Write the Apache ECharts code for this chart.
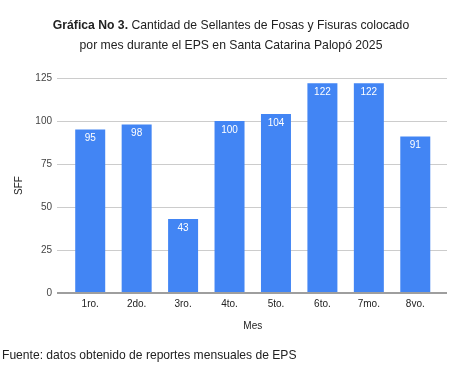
<!DOCTYPE html>
<html><head><meta charset="utf-8">
<script src="https://cdn.jsdelivr.net/npm/echarts@6/dist/echarts.min.js"></script>
<style>html,body{margin:0;padding:0;background:#fff}#c{width:456px;height:368px}</style>
</head><body><div id="c"></div>
<script>
const categories = ['1ro.', '2do.', '3ro.', '4to.', '5to.', '6to.', '7mo.', '8vo.'];
const values = [95, 98, 43, 100, 104, 122, 122, 91];
const yTicks = [0, 25, 50, 75, 100, 125];
const titleBold = 'Gráfica No 3.';
const titleRest1 = ' Cantidad de Sellantes de Fosas y Fisuras colocado';
const titleLine2 = 'por mes durante el EPS en Santa Catarina Palopó 2025';
const xName = 'Mes';
const yName = 'SFF';
const footer = 'Fuente: datos obtenido de reportes mensuales de EPS';

const chart = echarts.init(document.getElementById('c'), null, {renderer: 'canvas'});
const F = 'Arial, "Liberation Sans", sans-serif';
chart.setOption({
  animation: false,
  backgroundColor: '#fff',
  title: [{
    text: '{b|' + titleBold + '}' + titleRest1 + '\n' + titleLine2,
    left: 231, top: 16, textAlign: 'center', padding: 0,
    textStyle: {
      fontFamily: F, fontSize: 12.2, fontWeight: 'normal', color: '#222', lineHeight: 20,
      rich: {b: {fontFamily: F, fontSize: 12.2, fontWeight: 'bold', color: '#222'}}
    }
  }, {
    text: footer, left: 2, top: 350, padding: 0,
    textStyle: {fontFamily: F, fontSize: 12.1, fontWeight: 'normal', color: '#222'}
  }],
  grid: [
    {left: 57, right: 9, top: 78, bottom: 75},
    {left: 67, right: 17.5, top: 78, bottom: 75}
  ],
  xAxis: [
    {gridIndex: 0, type: 'value', min: 0, max: 1, show: false},
    {gridIndex: 1, type: 'category', data: categories,
     name: xName, nameLocation: 'middle', nameGap: 28,
     nameTextStyle: {fontFamily: F, fontSize: 10, color: '#222'},
     axisLine: {show: false}, axisTick: {show: false},
     axisLabel: {fontFamily: F, fontSize: 10, color: '#222', margin: 6}}
  ],
  yAxis: [
    {gridIndex: 0, type: 'value', min: 0, max: 125, interval: 25,
     name: yName, nameLocation: 'middle', nameGap: 31, nameRotate: 90,
     nameTextStyle: {fontFamily: F, fontSize: 10, color: '#222'},
     axisLine: {show: false}, axisTick: {show: false},
     axisLabel: {fontFamily: F, fontSize: 10, color: '#444', margin: 5,
       formatter: v => yTicks.includes(v) ? String(v) : ''},
     splitLine: {lineStyle: {color: '#cccccc', width: 1}}},
    {gridIndex: 1, type: 'value', min: 0, max: 125, interval: 25, show: false,
     splitLine: {show: false}}
  ],
  series: [{
    type: 'line', xAxisIndex: 0, yAxisIndex: 0,
    data: [[0, 0], [1, 0]], symbol: 'none', silent: true,
    lineStyle: {color: '#9e9e9e', width: 2}, z: 5
  }, {
    type: 'bar', xAxisIndex: 1, yAxisIndex: 1, data: values,
    barWidth: '64.6%',
    itemStyle: {color: '#4285F4'},
    label: {show: true, position: 'insideTop', distance: 4,
      fontFamily: F, fontSize: 10, color: '#fff'}
  }]
});
</script></body></html>
